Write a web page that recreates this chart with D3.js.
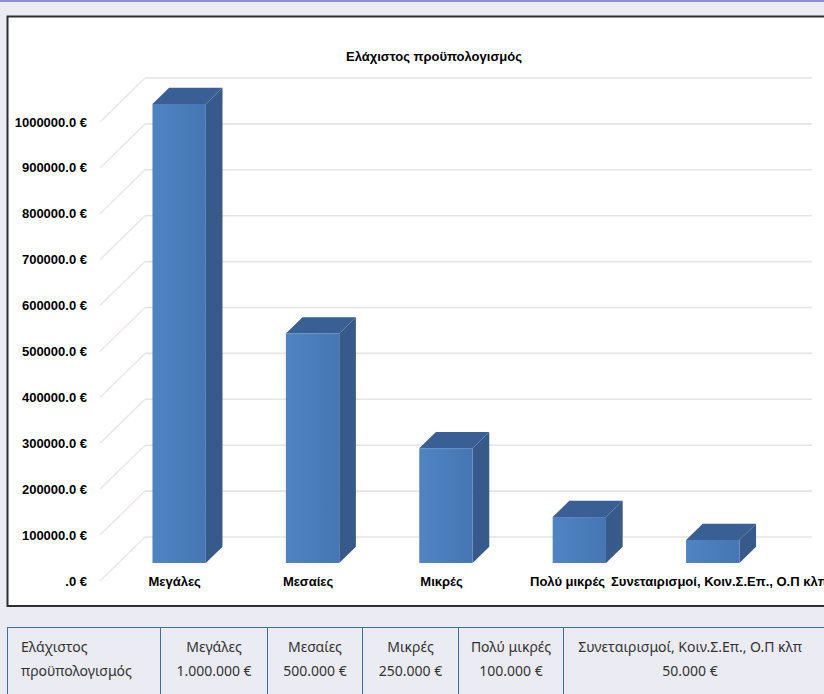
<!DOCTYPE html>
<html>
<head>
<meta charset="utf-8">
<script src="https://cdn.jsdelivr.net/npm/d3@7"></script>
<style>
  body { margin: 0; background: #ebebf3; overflow: hidden; width: 824px; height: 694px; position: relative; }
  .topline { position: absolute; left: 0; top: 0; width: 824px; height: 2px; background: #8e8ed4; }
  svg { position: absolute; left: 0; top: 0; }
  .chart-text { font-family: "Liberation Sans", Arial, sans-serif; font-weight: bold; font-size: 13px; fill: #000; }
  table.info { position: absolute; left: 7px; top: 627px; border-collapse: collapse; table-layout: fixed;
    font-family: "Noto Sans", "Open Sans", sans-serif; font-size: 14px; line-height: 24px; color: #333; }
  table.info td { border: 1px solid #3d6db0; padding: 7px 0 14px 0; text-align: center; vertical-align: top; white-space: nowrap; }
  table.info td.first { text-align: left; padding-left: 13px; white-space: normal; }
  table.info td.last { padding-right: 24px; }
</style>
</head>
<body>
<div class="topline"></div>
<script>
// Data
const title = "Ελάχιστος προϋπολογισμός";
const categories = ["Μεγάλες", "Μεσαίες", "Μικρές", "Πολύ μικρές", "Συνεταιρισμοί, Κοιν.Σ.Επ., Ο.Π κλπ"];
const values = [1000000, 500000, 250000, 100000, 50000];
const yTicks = [0, 100000, 200000, 300000, 400000, 500000, 600000, 700000, 800000, 900000, 1000000];
const tableHeader = "Ελάχιστος προϋπολογισμός";

const tickLabel = v => v === 0 ? ".0 €" : v.toFixed(1) + " €";
const tableFormat = d3.formatLocale({ decimal: ",", thousands: ".", grouping: [3], currency: ["", " €"] }).format("$,.0f");

const width = 824, height = 610;

const svg = d3.select("body").append("svg")
    .attr("width", width)
    .attr("height", height);

// chart frame
svg.append("rect")
    .attr("x", 7.5).attr("y", 16.5)
    .attr("width", 840).attr("height", 589.5)
    .attr("fill", "#fff")
    .attr("stroke", "#2e2e2e")
    .attr("stroke-width", 2);

svg.append("text")
    .attr("class", "chart-text")
    .attr("x", 434).attr("y", 61)
    .attr("text-anchor", "middle")
    .text(title);

// pseudo 3d geometry
const frontX0 = 100, frontX1 = 767;
const depthX = 45, depthY = -44;
const barFront = 0.41, barBack = 0.78;

const y = d3.scaleLinear().domain([0, 1000000]).range([581, 122]);
const x = d3.scaleBand().domain(categories).range([94, 761]).paddingInner(0.6).paddingOuter(0.3);

// back wall gridlines
svg.append("g")
    .selectAll("line")
    .data(yTicks)
    .enter().append("line")
    .attr("x1", frontX0 + depthX).attr("x2", frontX1 + depthX)
    .attr("y1", d => y(d) + depthY).attr("y2", d => y(d) + depthY)
    .attr("stroke", "#e4e4e4")
    .attr("stroke-width", 1.6);

// side wall gridlines
svg.append("g")
    .selectAll("line")
    .data(yTicks)
    .enter().append("line")
    .attr("x1", frontX0).attr("y1", d => y(d))
    .attr("x2", frontX0 + depthX).attr("y2", d => y(d) + depthY)
    .attr("stroke", "#ece6e6")
    .attr("stroke-width", 1.4);

// y labels
svg.append("g")
    .selectAll("text")
    .data(yTicks)
    .enter().append("text")
    .attr("class", "chart-text")
    .attr("x", 87)
    .attr("y", d => y(d))
    .attr("dy", "0.35em")
    .attr("text-anchor", "end")
    .text(tickLabel);

// bars
const defs = svg.append("defs");
const grad = defs.append("linearGradient").attr("id", "face").attr("x1", 0).attr("x2", 1);
grad.append("stop").attr("offset", "0%").attr("stop-color", "#4f84c3");
grad.append("stop").attr("offset", "100%").attr("stop-color", "#4676b3");

const bw = x.bandwidth();
const fdx = barFront * depthX, fdy = barFront * depthY;
const ddx = (barBack - barFront) * depthX, ddy = (barBack - barFront) * depthY;

const bars = svg.append("g")
    .selectAll("g")
    .data(categories.map((c, i) => ({ cat: c, value: values[i] })))
    .enter().append("g");

bars.append("polygon")
    .attr("fill", "#365a8a")
    .attr("points", d => {
        const x0 = x(d.cat) + fdx + bw, top = y(d.value) + fdy, bot = y(0) + fdy;
        return [[x0, top], [x0 + ddx, top + ddy], [x0 + ddx, bot + ddy], [x0, bot]].join(" ");
    });

bars.append("polygon")
    .attr("fill", "#3a5f94")
    .attr("points", d => {
        const x0 = x(d.cat) + fdx, top = y(d.value) + fdy;
        return [[x0, top], [x0 + ddx, top + ddy], [x0 + bw + ddx, top + ddy], [x0 + bw, top]].join(" ");
    });

bars.append("rect")
    .attr("fill", "url(#face)")
    .attr("x", d => x(d.cat) + fdx)
    .attr("y", d => y(d.value) + fdy)
    .attr("width", bw)
    .attr("height", d => y(0) - y(d.value));

// category labels, pushed apart where they collide
const catLabels = svg.append("g")
    .selectAll("text")
    .data(categories)
    .enter().append("text")
    .attr("class", "chart-text")
    .attr("y", y(0))
    .attr("dy", "0.35em")
    .attr("text-anchor", "middle")
    .attr("x", d => x(d) + bw / 2 + 14)
    .text(d => d);

const nodes = catLabels.nodes();
const centers = categories.map(d => x(d) + bw / 2 + 14);
const widths = nodes.map(n => n.getComputedTextLength());
for (let i = 1; i < nodes.length; i++) {
    const overlap = (centers[i - 1] + widths[i - 1] / 2 + 6) - (centers[i] - widths[i] / 2);
    if (overlap > 0) {
        centers[i - 1] -= overlap * 0.4;
        centers[i] += overlap * 0.6;
    }
}
catLabels.attr("x", (d, i) => centers[i]);

// table under the chart
const colWidths = [153, 107, 95, 96, 105, 277];
const table = d3.select("body").append("table")
    .attr("class", "info")
    .style("width", d3.sum(colWidths) + "px");
const colgroup = table.append("colgroup");
colWidths.forEach(w => colgroup.append("col").style("width", w + "px"));
const row = table.append("tr");
row.append("td").attr("class", "first").text(tableHeader);
categories.forEach((c, i) => {
    const td = row.append("td").classed("last", i === categories.length - 1);
    td.append("div").text(c);
    td.append("div").text(tableFormat(values[i]));
});
</script>
</body>
</html>
